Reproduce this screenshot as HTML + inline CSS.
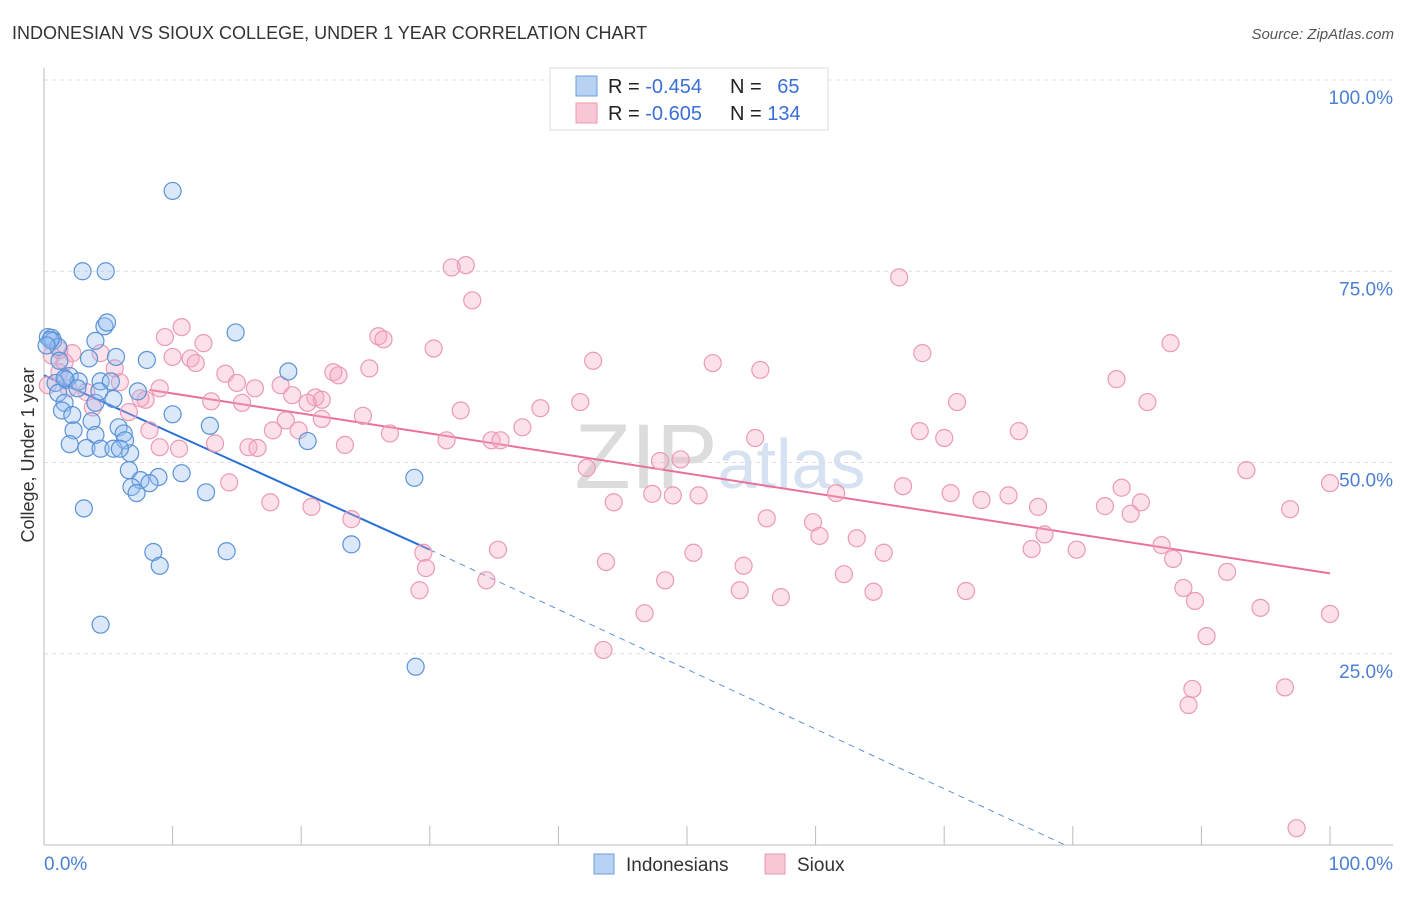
<!DOCTYPE html>
<html><head><meta charset="utf-8">
<style>
body{margin:0;background:#fff;font-family:"Liberation Sans",sans-serif;}
svg text{font-family:"Liberation Sans",sans-serif;}
</style></head>
<body>
<svg id="chart" width="1406" height="892" xmlns="http://www.w3.org/2000/svg">
<text x="12" y="39" font-size="18" fill="#333">INDONESIAN VS SIOUX COLLEGE, UNDER 1 YEAR CORRELATION CHART</text>
<text x="1394" y="39" font-size="15" fill="#555" font-style="italic" text-anchor="end">Source: ZipAtlas.com</text>
<text x="720" y="488" font-size="92" fill="#e4e4e4" text-anchor="middle" font-family="Liberation Serif"><tspan fill="#dcdcdc">ZIP</tspan><tspan fill="#d6e2f2" font-family="Liberation Sans" font-size="70">atlas</tspan></text>
<g id="grid"></g>
<g id="axes"></g>
<g id="lines"></g>
<g id="pts"></g>
<text transform="translate(34,455) rotate(-90)" font-size="18" fill="#333" text-anchor="middle">College, Under 1 year</text>
<g>
<rect x="550" y="68" width="278" height="62" fill="#fff" stroke="#ddd"/>
<rect x="576" y="76" width="21" height="20" fill="#b8d2f3" stroke="#6d9ee0"/>
<rect x="576" y="103" width="21" height="20" fill="#f8c6d5" stroke="#eb9ab5"/>
<text x="608" y="93" font-size="20" fill="#222">R = <tspan fill="#3a6fd8">-0.454</tspan></text>
<text x="730" y="93" font-size="20" fill="#222">N = <tspan fill="#3a6fd8" dx="10">65</tspan></text>
<text x="608" y="120" font-size="20" fill="#222">R = <tspan fill="#3a6fd8">-0.605</tspan></text>
<text x="730" y="120" font-size="20" fill="#222">N = <tspan fill="#3a6fd8">134</tspan></text>
</g>
<g>
<rect x="594" y="854" width="20" height="20" fill="#b8d2f3" stroke="#6d9ee0"/>
<text x="626" y="871" font-size="19" fill="#333">Indonesians</text>
<rect x="765" y="854" width="20" height="20" fill="#f8c6d5" stroke="#eb9ab5"/>
<text x="797" y="871" font-size="19" fill="#333">Sioux</text>
</g>
</svg>
<script>
const yTicks=[25,50,75,100];
const yTickLabels=["25.0%","50.0%","75.0%","100.0%"];
const xTicks=[0,10,20,30,40,50,60,70,80,90,100];
const blueX=[10.0,3.0,4.8,4.7,4.9,14.9,0.3,0.6,0.7,4.0,1.1,5.6,3.5,8.0,19.0,2.0,1.7,4.4,0.9,2.7,5.2,7.3,1.1,5.4,1.6,4.0,1.4,10.0,2.2,3.7,12.9,2.3,5.8,4.0,6.2,6.3,2.0,3.3,4.4,5.4,6.7,20.5,6.6,10.7,8.9,7.5,8.2,6.8,7.2,12.6,28.8,3.1,8.5,14.2,23.9,9.0,4.4,28.9,0.5,0.2,1.2,1.6,2.6,4.3,5.9];
const blueY=[85.5,75.0,75.0,67.8,68.3,67.0,66.4,66.3,65.9,65.9,65.1,63.8,63.6,63.4,61.9,61.3,60.8,60.6,60.4,60.6,60.6,59.3,59.1,58.3,57.8,57.8,56.8,56.3,56.2,55.4,54.8,54.2,54.6,53.6,53.8,52.9,52.4,51.9,51.8,51.8,51.2,52.8,49.0,48.6,48.1,47.7,47.3,46.8,46.0,46.1,48.0,44.0,38.3,38.4,39.3,36.5,28.8,23.3,66.0,65.3,63.3,61.0,59.7,59.3,51.8];
const pinkX=[32.8,31.7,66.5,33.3,10.7,9.4,26.0,26.4,12.4,30.3,68.3,87.6,2.2,4.4,11.4,10.0,11.8,42.7,52.0,55.7,25.3,22.5,22.9,14.1,15.0,83.4,5.9,1.2,1.9,9.0,18.4,16.4,21.1,21.6,19.3,7.9,13.0,15.4,7.5,41.7,71.0,85.8,3.8,20.5,32.4,38.6,24.8,21.6,18.8,6.6,26.9,17.8,19.8,37.2,8.2,68.1,75.8,70.0,31.3,34.8,35.5,55.3,15.9,16.6,23.4,13.3,10.5,49.5,47.9,42.2,93.5,100.0,14.4,66.8,61.6,83.8,47.3,48.9,50.9,85.3,70.5,72.9,75.0,44.3,17.6,20.8,77.3,82.5,84.5,96.9,23.9,56.2,59.8,60.3,77.8,63.2,86.9,29.5,35.3,50.5,65.3,76.8,80.3,87.8,43.7,54.4,29.7,62.2,92.0,34.4,48.3,54.1,64.5,71.7,57.3,88.6,29.2,89.5,46.7,94.6,100.0,90.4,43.5,89.3,96.5,89.0,97.4,0.6,1.6,5.5,3.3,9.0,0.3,1.2];
const pinkY=[75.8,75.5,74.2,71.2,67.7,66.4,66.5,66.1,65.6,64.9,64.3,65.6,64.3,64.3,63.6,63.8,63.0,63.3,63.0,62.1,62.3,61.8,61.4,61.6,60.4,60.9,60.5,61.8,59.7,59.7,60.1,59.7,58.5,58.2,58.8,58.2,58.0,57.8,58.4,57.9,57.9,57.9,57.2,57.8,56.8,57.1,56.1,55.7,55.5,56.6,53.8,54.2,54.2,54.6,54.2,54.1,54.1,53.2,52.9,52.9,52.9,53.2,52.0,51.9,52.3,52.5,51.8,50.4,50.2,49.3,49.0,47.3,47.4,46.9,46.0,46.7,45.9,45.7,45.7,44.8,46.0,45.1,45.7,44.8,44.8,44.2,44.2,44.3,43.3,43.9,42.6,42.7,42.2,40.4,40.6,40.1,39.2,38.2,38.6,38.2,38.2,38.7,38.6,37.4,37.0,36.5,36.2,35.4,35.7,34.6,34.6,33.3,33.1,33.2,32.4,33.6,33.3,31.9,30.3,31.0,30.2,27.3,25.5,20.4,20.6,18.3,2.2,64.0,63.1,62.3,59.2,52.0,60.1,64.7];
const blueTrend=[0,61.4,30,38.6,79.4,0];
const pinkTrend=[8.2,59.5,100,35.5];

const NS="http://www.w3.org/2000/svg";
const X0=44,X1=1330,Y0=845,Y1=80;
const sx=v=>X0+(X1-X0)*v/100;
const sy=v=>Y0-(Y0-Y1)*v/100;
function mk(tag,attrs,parent){const e=document.createElementNS(NS,tag);for(const k in attrs)e.setAttribute(k,attrs[k]);document.getElementById(parent).appendChild(e);return e;}

yTicks.forEach((t,i)=>{
  const g=mk('line',{x1:44,x2:1393,y1:sy(t),y2:sy(t),stroke:'#ddd','stroke-dasharray':'4,4'},'grid');
  
  
  const l=mk('text',{x:1393,y:sy(t)+24,'font-size':19,fill:'#4a7fd4','text-anchor':'end'},'axes');
  l.textContent=yTickLabels[i];
  
  
});
const ax=mk('line',{x1:44,x2:44,y1:68,y2:845,stroke:'#bbb'},'axes');


const bx=mk('line',{x1:44,x2:1393,y1:845,y2:845,stroke:'#bbb'},'axes');


xTicks.forEach(t=>{
  const tk=mk('line',{x1:sx(t),x2:sx(t),y1:826,y2:845,stroke:'#bbb'},'axes');
  
  
});
const xl0=mk('text',{x:44,y:870,'font-size':19,fill:'#4a7fd4'},'axes');xl0.textContent='0.0%';


const xl1=mk('text',{x:1393,y:870,'font-size':19,fill:'#4a7fd4','text-anchor':'end'},'axes');xl1.textContent='100.0%';



pinkX.forEach((v,i)=>{
  const c=mk('circle',{cx:sx(v),cy:sy(pinkY[i]),r:8.5,fill:'rgba(245,170,195,0.35)',stroke:'#eb9ab5','stroke-width':1.2},'pts');
  
  
});
blueX.forEach((v,i)=>{
  const c=mk('circle',{cx:sx(v),cy:sy(blueY[i]),r:8.5,fill:'rgba(150,190,240,0.35)',stroke:'#5b93d6','stroke-width':1.2},'pts');
  
  
});
const bl=mk('line',{x1:sx(blueTrend[0]),y1:sy(blueTrend[1]),x2:sx(blueTrend[2]),y2:sy(blueTrend[3]),stroke:'#2a6fd6','stroke-width':2},'lines');


const bd=mk('line',{x1:sx(blueTrend[2]),y1:sy(blueTrend[3]),x2:sx(blueTrend[4]),y2:sy(blueTrend[5]),stroke:'#5b93d6','stroke-width':1,'stroke-dasharray':'6,5'},'lines');


const pl=mk('line',{x1:sx(pinkTrend[0]),y1:sy(pinkTrend[1]),x2:sx(pinkTrend[2]),y2:sy(pinkTrend[3]),stroke:'#e8709a','stroke-width':2},'lines');


</script>
</body></html>
